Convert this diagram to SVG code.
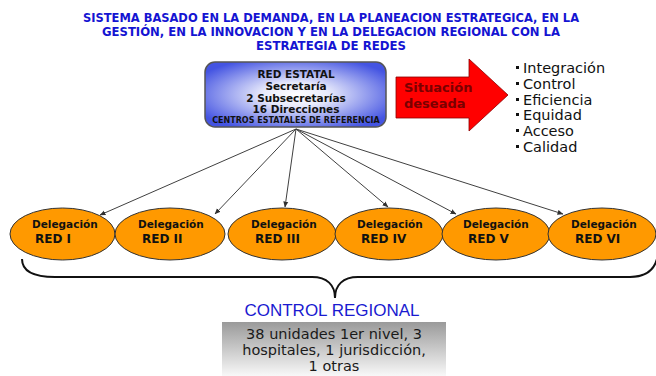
<svg xmlns="http://www.w3.org/2000/svg" width="656" height="376" viewBox="0 0 656 376">
<defs>
<radialGradient id="gBlue" cx="50%" cy="50%" r="60%">
<stop offset="0" stop-color="#ffffff"/>
<stop offset="0.3" stop-color="#e8eafb"/>
<stop offset="1" stop-color="#4454e2"/>
</radialGradient>
<linearGradient id="gGray" x1="0" y1="0" x2="0" y2="1">
<stop offset="0" stop-color="#9a9a9a"/>
<stop offset="1" stop-color="#f8f8f8"/>
</linearGradient>
<marker id="ah" markerWidth="6" markerHeight="6" refX="5.5" refY="3" orient="auto" markerUnits="userSpaceOnUse">
<path d="M0,0.5 L6,3 L0,5.5 Z" fill="#303030"/>
</marker>
</defs>
<style>
.title{font-family:"DejaVu Sans Condensed","DejaVu Sans",sans-serif;font-weight:bold;font-size:12px;fill:#1414d2;text-anchor:middle}
.box{font-family:"DejaVu Sans",Verdana,sans-serif;font-weight:bold;fill:#111;text-anchor:middle}
.ell{fill:#ff9900;stroke:#333;stroke-width:1}
.dl{font-family:"DejaVu Sans",Verdana,sans-serif;font-weight:bold;font-size:10.5px;fill:#111}
.rd{font-family:"DejaVu Sans",Verdana,sans-serif;font-weight:bold;font-size:12px;fill:#111}
.bl{font-family:"DejaVu Sans",Verdana,sans-serif;font-size:14.5px;fill:#111}
.cr{font-family:"DejaVu Sans",Verdana,sans-serif;font-size:14.5px;fill:#1a1a1a;text-anchor:middle}
.sd{font-family:"DejaVu Sans",Verdana,sans-serif;font-weight:bold;font-size:13px;fill:#7a0000}
.conn{stroke:#404040;stroke-width:1;fill:none;marker-end:url(#ah)}
</style>
<g id="title">
<text class="title" x="331" y="22" textLength="496" lengthAdjust="spacingAndGlyphs">SISTEMA BASADO EN LA DEMANDA, EN LA PLANEACION ESTRATEGICA, EN LA</text>
<text class="title" x="331" y="36" textLength="458" lengthAdjust="spacingAndGlyphs">GESTIÓN, EN LA INNOVACION Y EN LA DELEGACION REGIONAL CON LA</text>
<text class="title" x="331" y="50" textLength="150" lengthAdjust="spacingAndGlyphs">ESTRATEGIA DE REDES</text>
</g>
<g id="red-estatal">
<rect x="205" y="62" width="181" height="65" rx="10" fill="url(#gBlue)" stroke="#555" stroke-width="1.5"/>
<text class="box" x="296" y="78" font-size="10.5">RED ESTATAL</text>
<text class="box" x="296" y="90" font-size="10.5">Secretaría</text>
<text class="box" x="296" y="101.5" font-size="10.5">2 Subsecretarías</text>
<text class="box" x="296" y="112.5" font-size="10.5">16 Direcciones</text>
<text class="box" x="296" y="122.5" font-size="8">CENTROS ESTATALES DE REFERENCIA</text>
</g>
<g id="situacion">
<path d="M396,77 L469,77 L469,59 L508,95 L469,131 L469,118 L396,118 Z" fill="#ff0000" stroke="#8a0000" stroke-width="0.8"/>
<text class="sd" x="404" y="92">Situación</text>
<text class="sd" x="404" y="108">deseada</text>
</g>
<g id="atributos">
<rect x="516" y="66" width="3" height="3" fill="#111"/>
<text class="bl" x="523" y="73">Integración</text>
<rect x="516" y="82" width="3" height="3" fill="#111"/>
<text class="bl" x="523" y="89">Control</text>
<rect x="516" y="98" width="3" height="3" fill="#111"/>
<text class="bl" x="523" y="105">Eficiencia</text>
<rect x="516" y="113" width="3" height="3" fill="#111"/>
<text class="bl" x="523" y="120">Equidad</text>
<rect x="516" y="129" width="3" height="3" fill="#111"/>
<text class="bl" x="523" y="136">Acceso</text>
<rect x="516" y="145" width="3" height="3" fill="#111"/>
<text class="bl" x="523" y="152">Calidad</text>
</g>
<g id="connectors">
<line class="conn" x1="296" y1="129" x2="100" y2="215"/>
<line class="conn" x1="296" y1="129" x2="215" y2="214"/>
<line class="conn" x1="296" y1="129" x2="285" y2="207"/>
<line class="conn" x1="296" y1="129" x2="388" y2="207"/>
<line class="conn" x1="296" y1="129" x2="456" y2="214"/>
<line class="conn" x1="296" y1="129" x2="563" y2="214"/>
<path d="M22,259 C22,271 33,277 55,277 L312,277 C327,277 335,285 335,298 C335,285 343,277 358,277 L630,277 C645,277 654,270 657,259" fill="none" stroke="#111" stroke-width="2"/>
</g>
<g id="red1">
<ellipse class="ell" cx="62.5" cy="234" rx="52.5" ry="26"/>
<text class="dl" x="32" y="228" font-size="10">Delegación</text>
<text class="rd" x="35" y="242.5">RED I</text>
</g>
<g id="red2">
<ellipse class="ell" cx="170" cy="234" rx="55" ry="26"/>
<text class="dl" x="138" y="228">Delegación</text>
<text class="rd" x="142" y="242.5">RED II</text>
</g>
<g id="red3">
<ellipse class="ell" cx="282" cy="234" rx="54" ry="26"/>
<text class="dl" x="251" y="228">Delegación</text>
<text class="rd" x="255" y="242.5">RED III</text>
</g>
<g id="red4">
<ellipse class="ell" cx="389" cy="234" rx="54" ry="26"/>
<text class="dl" x="357" y="228">Delegación</text>
<text class="rd" x="361" y="242.5">RED IV</text>
</g>
<g id="red5">
<ellipse class="ell" cx="496" cy="234" rx="54" ry="26"/>
<text class="dl" x="463" y="228">Delegación</text>
<text class="rd" x="468" y="242.5">RED V</text>
</g>
<g id="red6">
<ellipse class="ell" cx="602" cy="234" rx="54" ry="26"/>
<text class="dl" x="571" y="228">Delegación</text>
<text class="rd" x="575" y="242.5">RED VI</text>
</g>
<g id="control-regional">
<text x="332" y="316" font-family="Liberation Sans,Arial,sans-serif" font-size="17" fill="#1a1ad0" text-anchor="middle">CONTROL REGIONAL</text>
<rect x="222" y="322" width="224" height="54" fill="url(#gGray)"/>
<text class="cr" x="334" y="339">38 unidades 1er nivel, 3</text>
<text class="cr" x="334" y="355">hospitales, 1 jurisdicción,</text>
<text class="cr" x="334" y="371">1 otras</text>
</g>
</svg>
